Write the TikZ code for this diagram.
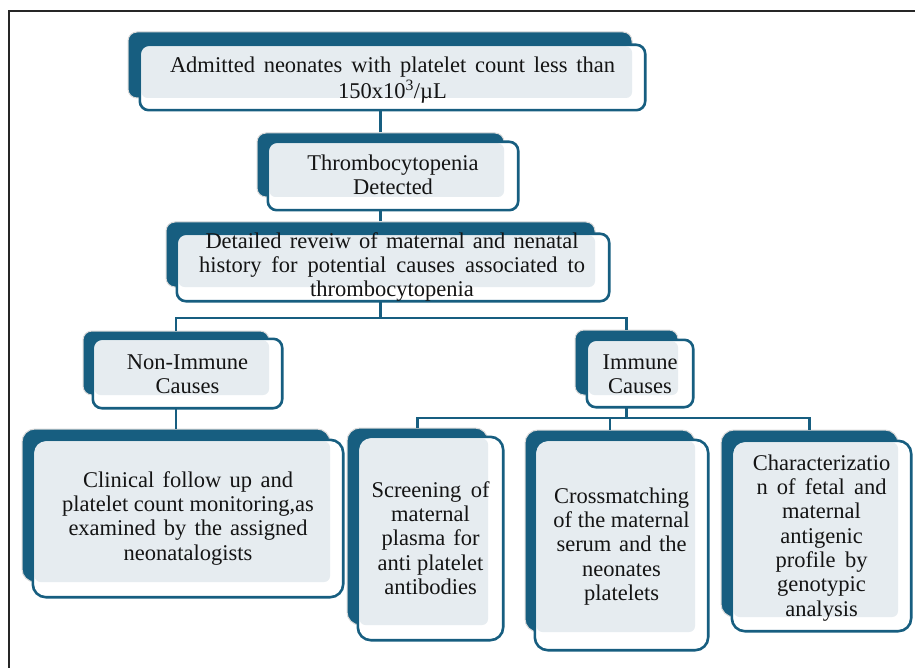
\documentclass[tikz,border=0pt]{standalone}
\usepackage{fontspec}
\setmainfont{Liberation Serif}
\usetikzlibrary{fit}
\definecolor{teal1}{HTML}{175E80}
\definecolor{lightbg}{HTML}{E6ECF0}
\definecolor{txtc}{HTML}{141414}
\newcommand\boxr{9}
% name, back x1 y1 x2 y2, front x1 y1 x2 y2
\newcommand\sabox[9]{%
  \node[backbox, rounded corners=\boxr pt, fit={(#2,#3)(#4,#5)}] (#1B) {};
  \node[frontwhite, rounded corners=\boxr pt, fit={(#6,#7)(#8,#9)}] (#1F) {};
  \fill[lightbg, rounded corners=6pt] ({#6+1.5},{#7+1.5}) rectangle (#4,#5);
  \draw[frontline, rounded corners=\boxr pt] (#1F.north west) rectangle (#1F.south east);
}
\begin{document}
\begin{tikzpicture}[x=1pt,y=-1pt,
  backbox/.style={fill=teal1, draw=black!15, line width=1pt, inner sep=0pt},
  frontwhite/.style={fill=white, draw=none, inner sep=0pt},
  frontline/.style={draw=teal1, line width=2.6pt},
  conn/.style={draw=teal1, line width=2.7pt},
  txt/.style={anchor=north, inner sep=0pt, align=center, text=txtc,
    font=\fontsize{22.5}{24.3}\selectfont},
]
\useasboundingbox (0,0) rectangle (915,668);
\fill[white] (0,0) rectangle (915,668);
\draw[black!85, line width=1.3pt] (9,668) -- (9,11) -- (915,11);

\sabox{adm}{128}{32}{632}{98}{140}{45}{645}{110}
\sabox{thr}{257}{133}{504}{197}{268}{142}{518}{210}
\sabox{det}{166}{222}{595}{287}{177}{234}{609}{301}
\sabox{non}{83}{331}{269}{395}{93}{339}{282}{408}
\sabox{imm}{575}{330}{678}{395}{587}{340}{693}{407}
\renewcommand\boxr{13}
\sabox{cli}{22}{429}{330}{582}{33}{440}{343}{597}
\sabox{scr}{347}{428}{488}{625}{358}{437}{503}{640}
\sabox{cro}{525}{430}{695}{632}{535}{440}{708}{650}
\sabox{cha}{721}{430}{898}{617}{732}{441}{911}{631}

% texts
\node[txt] (admT) at (392.5,{72-17}) {\strut\makebox[445pt][s]{Admitted neonates with platelet count less than}\\\strut 150x10\textsuperscript{3}/µL};
\node[txt] (thrT) at (393,{170-17}) {\strut Thrombocytopenia\\\strut Detected};
\node[txt] (detT) at (392,{248-17}) {\strut\makebox[373pt][s]{Detailed reveiw of maternal and nenatal}\\\strut\makebox[386pt][s]{history for potential causes associated to}\\\strut thrombocytopenia};
\node[txt] (nonT) at (187.5,{369-17}) {\strut Non-Immune\\\strut Causes};
\node[txt] (immT) at (640,{369-17}) {\strut Immune\\\strut Causes};
\node[txt] (cliT) at (188,{487-17}) {\strut\makebox[210pt][s]{Clinical follow up and}\\\strut platelet count monitoring,as\\\strut\makebox[239pt][s]{examined by the assigned}\\\strut neonatalogists};
\node[txt] (scrT) at (430.5,{497-17}) {\strut\makebox[118pt][s]{Screening of}\\\strut maternal\\\strut\makebox[98pt][s]{plasma for}\\\strut anti platelet\\\strut antibodies};
\node[txt] (croT) at (621.5,{503-17}) {\strut Crossmatching\\\strut of the maternal\\\strut\makebox[130pt][s]{serum and the}\\\strut neonates\\\strut platelets};
\node[txt] (chaT) at (821.5,{470-17}) {\strut Characterizatio\\\strut\makebox[130pt][s]{n of fetal and}\\\strut maternal\\\strut antigenic\\\strut\makebox[92pt][s]{profile by}\\\strut genotypic\\\strut analysis};

% connectors
\draw[conn] (thrB.north) -- (thrB.north |- admF.south);
\draw[conn] (detB.north) -- (detB.north |- thrF.south);
\coordinate (j1) at (380.5,318);
\draw[conn] (detB.center |- detF.south) -- (j1);
\draw[conn] (nonB.north) |- (j1) -| (immB.north);
\draw[conn] (cliB.north) -- (cliB.north |- nonF.south);
\coordinate (j2) at (626.5,418);
\draw[conn] (immB.center |- immF.south) -- (j2);
\draw[conn] (scrB.north) |- (j2) -| (chaB.north);
\draw[conn] (croB.north) -- (croB.north |- j2);
\end{tikzpicture}
\end{document}
